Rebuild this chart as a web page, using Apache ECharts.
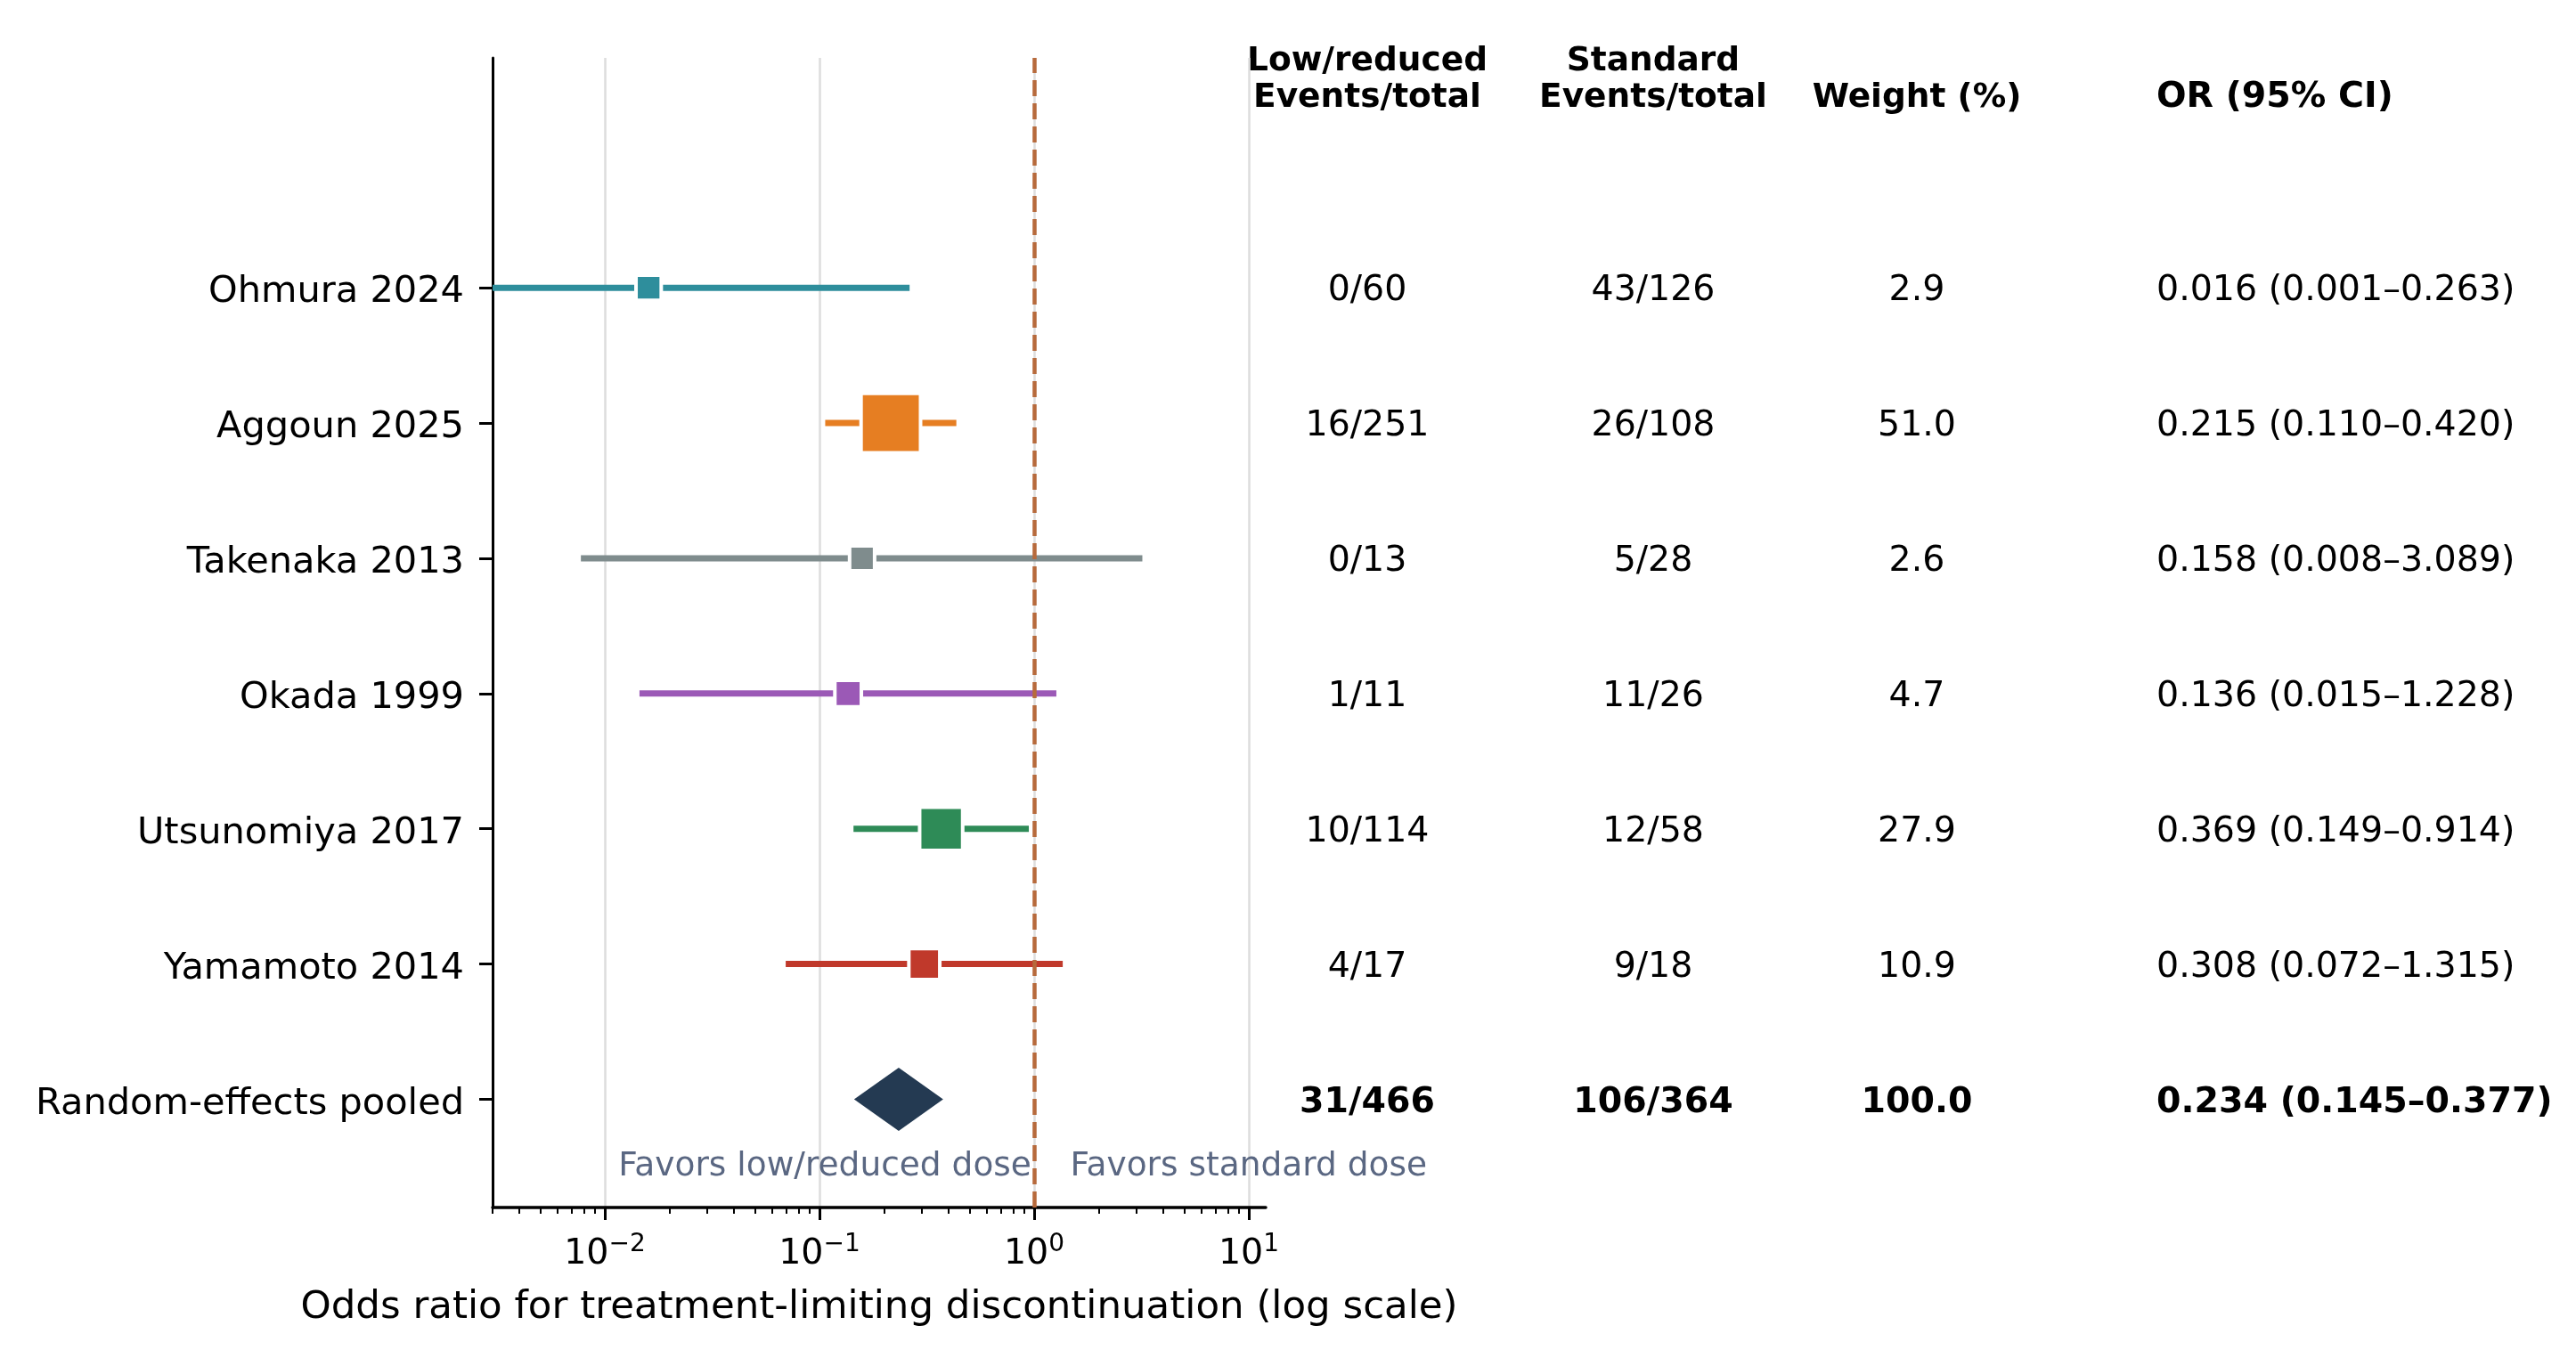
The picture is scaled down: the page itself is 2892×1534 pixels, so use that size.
<!DOCTYPE html>
<html>
<head>
<meta charset="utf-8">
<script src="https://cdn.jsdelivr.net/npm/echarts@6/dist/echarts.min.js"></script>
<style>
html, body { margin: 0; padding: 0; background: #fff; }
#chart { width: 2892px; height: 1534px; }
</style>
</head>
<body>
<div id="chart"></div>
<script>
// study rows, top to bottom
var studies = ['Ohmura 2024', 'Aggoun 2025', 'Takenaka 2013', 'Okada 1999', 'Utsunomiya 2017', 'Yamamoto 2014'];
var lowEvents = ['0/60', '16/251', '0/13', '1/11', '10/114', '4/17'];
var stdEvents = ['43/126', '26/108', '5/28', '11/26', '12/58', '9/18'];
var weights = [2.9, 51.0, 2.6, 4.7, 27.9, 10.9];
var orEst = [0.016, 0.215, 0.158, 0.136, 0.369, 0.308];
var ciLow = [0.001, 0.110, 0.008, 0.015, 0.149, 0.072];
var ciHigh = [0.263, 0.420, 3.089, 1.228, 0.914, 1.315];
var colors = ['#2e8e9c', '#e67e22', '#7f8c8d', '#9b59b6', '#2e8b57', '#c0392b'];

var pooledName = 'Random-effects pooled';
var pooledLowEvents = '31/466';
var pooledStdEvents = '106/364';
var pooledWeight = 100.0;
var pooledOr = 0.234, pooledLow = 0.145, pooledHigh = 0.377;

var majorTicks = [0.01, 0.1, 1, 10];

var headers = [
	{ lines: ['Low/reduced', 'Events/total'], x: 1535, align: 'center', size: 37.5 },
	{ lines: ['Standard', 'Events/total'], x: 1856, align: 'center', size: 37.5 },
	{ lines: ['', 'Weight (%)'], x: 2152, align: 'center', size: 37.5 },
	{ lines: ['', 'OR (95% CI)'], x: 2421, align: 'left', size: 39.5 }
];

var FONT = '"DejaVu Sans", sans-serif';
var TXT_DY = 4; // canvas 'middle' sits a little higher than matplotlib's centre
var nRows = studies.length;
function rowY(i) { return nRows - i; }

var minorTicks = [];
[0.001, 0.01, 0.1, 1].forEach(function (d) {
	for (var k = 2; k <= 9; k++) {
		var v = +(d * k).toPrecision(3);
		if (v >= 0.003 && v <= 12) minorTicks.push(v);
	}
});

function orText(e, l, h) {
	return e.toFixed(3) + ' (' + l.toFixed(3) + '\u2013' + h.toFixed(3) + ')';
}

// table cells, one row per line of the plot (pooled last)
var tableCells = studies.map(function (s, i) {
	return [lowEvents[i], stdEvents[i], weights[i].toFixed(1), orText(orEst[i], ciLow[i], ciHigh[i])];
});
tableCells.push([pooledLowEvents, pooledStdEvents, pooledWeight.toFixed(1), orText(pooledOr, pooledLow, pooledHigh)]);
var tableRows = tableCells.map(function (r, i) { return [1, i < nRows ? rowY(i) : 0]; });

var colX = [1535, 1856, 2152, 2421];

var yLabels = {};
studies.forEach(function (s, i) { yLabels[rowY(i)] = s; });
yLabels[0] = pooledName;
var yTickVals = Object.keys(yLabels).map(Number);

function squareSide(w) { return 22 + 0.8 * w; }

var graphics = [];
headers.forEach(function (h) {
	h.lines.forEach(function (t, li) {
		if (!t) return;
		graphics.push({
			type: 'text', x: h.x, y: 65 + li * 41 + TXT_DY,
			style: { text: t, font: 'bold ' + h.size + 'px ' + FONT, fill: '#000',
				textAlign: h.align, textVerticalAlign: 'middle', align: h.align, verticalAlign: 'middle' }
		});
	});
});

var chart = echarts.init(document.getElementById('chart'));
var option = {
	backgroundColor: '#fff',
	animation: false,
	graphic: graphics,
	grid: { left: 553, right: 1471, top: 65, bottom: 178, containLabel: false },
	xAxis: [{
		type: 'log', logBase: 10, min: 0.003, max: 12,
		name: 'Odds ratio for treatment-limiting discontinuation (log scale)',
		nameLocation: 'middle', nameGap: 91,
		nameTextStyle: { fontFamily: FONT, fontSize: 43.5, color: '#000' },
		axisLine: { show: true, onZero: false, lineStyle: { color: '#000', width: 3.5 } },
		axisTick: { show: true, customValues: majorTicks, length: 14, lineStyle: { color: '#000', width: 3 } },
		axisLabel: {
			customValues: majorTicks, margin: 28, color: '#000',
			formatter: function (v) {
				var e = Math.round(Math.log10(v));
				return '{b|10}{s|' + (e < 0 ? '\u2212' + (-e) : e) + '}';
			},
			rich: {
				b: { fontFamily: FONT, fontSize: 39.5, color: '#000' },
				s: { fontFamily: FONT, fontSize: 28, color: '#000', padding: [0, 0, 22, 0] }
			}
		},
		splitLine: { show: true, lineStyle: { color: '#dddddd', width: 2.5 } }
	}, {
		type: 'log', logBase: 10, min: 0.003, max: 12, position: 'bottom',
		axisLine: { show: false, onZero: false },
		axisTick: { show: true, customValues: minorTicks, length: 7, lineStyle: { color: '#000', width: 2 } },
		axisLabel: { show: false },
		splitLine: { show: false }
	}],
	yAxis: {
		type: 'value', min: -0.8, max: 7.7,
		axisLine: { show: true, onZero: false, lineStyle: { color: '#000', width: 3 } },
		axisTick: { show: true, customValues: yTickVals, length: 15, lineStyle: { color: '#000', width: 3 } },
		axisLabel: {
			customValues: yTickVals, margin: 32, color: '#000',
			formatter: function (v) { return '{n|' + (yLabels[Math.round(v)] || '') + '}'; },
			rich: {
				n: { fontFamily: FONT, fontSize: 41.5, color: '#000', padding: [11, 0, 0, 0] }
			}
		},
		splitLine: { show: false }
	},
	series: [{
		// confidence intervals
		type: 'custom', name: 'ci', xAxisIndex: 0, yAxisIndex: 0,
		data: studies.map(function (s, i) { return [ciLow[i], ciHigh[i], rowY(i), i]; }),
		encode: { x: [0, 1], y: 2 },
		renderItem: function (params, api) {
			var y = api.value(2);
			var p1 = api.coord([api.value(0), y]);
			var p2 = api.coord([api.value(1), y]);
			var left = params.coordSys.x;
			var clipped = p1[0] < left;
			return {
				type: 'line',
				shape: { x1: Math.max(p1[0], left), y1: p1[1], x2: p2[0], y2: p2[1] },
				style: { stroke: colors[api.value(3)], lineWidth: 7, lineCap: clipped ? 'butt' : 'square' }
			};
		},
		z: 2
	}, {
		type: 'scatter', name: 'est', xAxisIndex: 0, yAxisIndex: 0,
		symbol: 'rect',
		data: studies.map(function (s, i) {
			return { value: [orEst[i], rowY(i)], itemStyle: { color: colors[i] } };
		}),
		symbolSize: function (val, params) { return squareSide(weights[params.dataIndex]) + 4; },
		itemStyle: { borderColor: '#fff', borderWidth: 4, opacity: 1 },
		z: 3
	}, {
		// pooled diamond
		type: 'custom', name: 'pooled', xAxisIndex: 0, yAxisIndex: 0,
		data: [[pooledOr, pooledLow, pooledHigh, 0]],
		encode: { x: [0, 1, 2], y: 3 },
		renderItem: function (params, api) {
			var y = api.value(3);
			var half = 0.233;
			var pts = [
				api.coord([api.value(1), y]),
				api.coord([api.value(0), y + half]),
				api.coord([api.value(2), y]),
				api.coord([api.value(0), y - half])
			];
			return { type: 'polygon', shape: { points: pts }, style: { fill: '#243a52' } };
		},
		z: 3
	}, {
		// null line
		type: 'scatter', name: 'ref', xAxisIndex: 0, yAxisIndex: 0, data: [],
		markLine: {
			silent: true, symbol: ['none', 'none'], label: { show: false },
			lineStyle: { color: '#b76a3c', width: 4.5, type: [18, 8] },
			data: [{ xAxis: 1 }]
		},
		z: 5
	}, {
		// table text
		type: 'custom', name: 'table', xAxisIndex: 0, yAxisIndex: 0,
		data: tableRows,
		encode: { x: 0, y: 1 },
		renderItem: function (params, api) {
			var idx = params.dataIndex;
			var y = api.coord([1, api.value(1)])[1] + TXT_DY;
			var bold = idx === nRows;
			var font = (bold ? 'bold ' : '') + '39.5px ' + FONT;
			var children = [];
			for (var c = 0; c < 4; c++) {
				var al = c === 3 ? 'left' : 'center';
				children.push({
					type: 'text', x: colX[c], y: y,
					style: { text: tableCells[idx][c], font: font, fill: '#000',
						textAlign: al, textVerticalAlign: 'middle', align: al, verticalAlign: 'middle' }
				});
			}
			return { type: 'group', children: children };
		},
		z: 4
	}, {
		// favours labels
		type: 'custom', name: 'favors', xAxisIndex: 0, yAxisIndex: 0,
		data: [[1, -0.47]],
		encode: { x: 0, y: 1 },
		renderItem: function (params, api) {
			var p = api.coord([1, api.value(1)]);
			var q = api.coord([1.5, api.value(1)]);
			var st = { font: '37.5px ' + FONT, fill: '#5a6782', textVerticalAlign: 'middle', verticalAlign: 'middle' };
			return {
				type: 'group', children: [
					{ type: 'text', x: p[0] - 3, y: p[1] + TXT_DY, style: Object.assign({ text: 'Favors low/reduced dose', textAlign: 'right', align: 'right' }, st) },
					{ type: 'text', x: q[0] - 2, y: q[1] + TXT_DY, style: Object.assign({ text: 'Favors standard dose', textAlign: 'left', align: 'left' }, st) }
				]
			};
		},
		z: 4
	}]
};
chart.setOption(option);
</script>
</body>
</html>
